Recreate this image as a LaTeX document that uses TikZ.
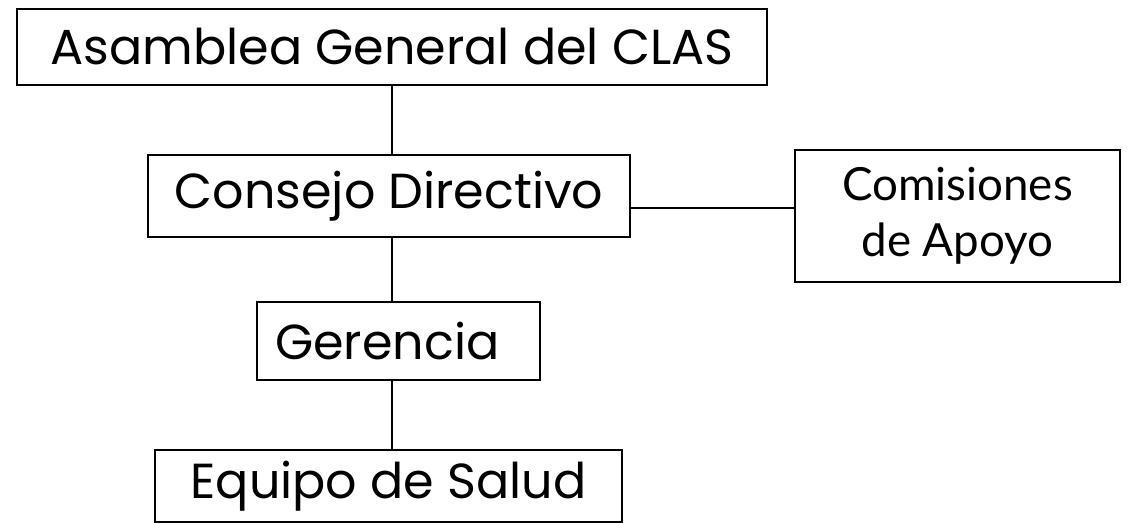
\documentclass[tikz,border=0pt]{standalone}
\usepackage{fontspec}
\setmainfont{Poppins}
\newfontfamily\comfont{Lato}
\usepackage{tikz}

\tikzset{
  cajita/.style={draw, line width=1.6pt, inner sep=0pt, font=\fontsize{28}{32.4}\selectfont}
}

\begin{document}
\begin{tikzpicture}
[
  x=0.02cm, y=-0.02cm
]

\useasboundingbox (0,0) rectangle (1140,523);

\node[cajita, minimum width=15cm, minimum height=1.52cm] (asamblea) at (392,47) {Asamblea General del CLAS};
\node[cajita, minimum width=9.64cm, minimum height=1.64cm] (consejo) at (389,196) {Consejo Directivo};
\node[cajita, minimum width=6.5cm, minimum height=2.64cm, align=center,
  font=\comfont\fontsize{26}{32}\selectfont] (comisiones) at (957.5,216) {Comisiones\\de Apoyo};
\node[cajita, minimum width=5.66cm, minimum height=1.56cm] (gerencia) at (398.5,341) {Gerencia\hspace*{0.45cm}};
\node[cajita, minimum width=9.34cm, minimum height=1.44cm] (equipo) at (388.5,486) {Equipo de Salud};

\coordinate (cd) at ([yshift=-0.24cm]consejo.east);

\path[line width=1.4pt]
(asamblea.south) edge (asamblea.south |- consejo.north)
(asamblea.south |- consejo.south) edge (asamblea.south |- gerencia.north)
(asamblea.south |- gerencia.south) edge (asamblea.south |- equipo.north)
(cd) edge (cd -| comisiones.west);

\end{tikzpicture}
\end{document}
